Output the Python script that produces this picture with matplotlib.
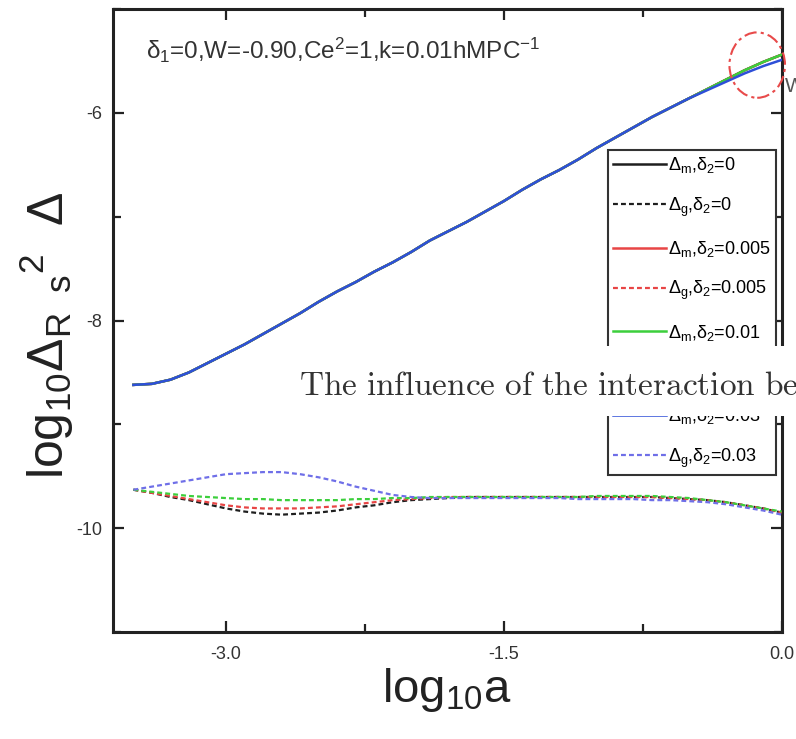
# -*- coding: utf-8 -*-
"""
Growth of log10 Delta versus log10 a for several delta_2 values
(solid: Delta_m, dashed: Delta_g), with the overlay strip of the screenshot.
"""
import matplotlib
matplotlib.use('Agg')
import matplotlib.pyplot as plt
from matplotlib.patches import Ellipse, Rectangle
from matplotlib.ticker import FixedLocator

plt.rcParams['font.family'] = ['Liberation Sans', 'DejaVu Sans']
plt.rcParams['mathtext.fontset'] = 'custom'
plt.rcParams['mathtext.rm'] = 'Liberation Sans'
plt.rcParams['mathtext.it'] = 'Liberation Sans'
plt.rcParams['mathtext.bf'] = 'Liberation Sans:bold'
plt.rcParams['axes.unicode_minus'] = False

# data
log_a = [-3.5, -3.4, -3.3, -3.2, -3.1, -3.0, -2.9, -2.8, -2.7, -2.6, -2.5, -2.4,
         -2.3, -2.2, -2.1, -2.0, -1.9, -1.8, -1.7, -1.6, -1.5, -1.4, -1.3, -1.2,
         -1.1, -1.0, -0.9, -0.8, -0.7, -0.6, -0.5, -0.4, -0.3, -0.2, -0.1, 0.0]

dm_0 = [-8.62, -8.61, -8.57, -8.50, -8.41, -8.32, -8.23, -8.13, -8.03, -7.93, -7.82, -7.72,
        -7.63, -7.53, -7.44, -7.34, -7.23, -7.14, -7.05, -6.95, -6.85, -6.74, -6.64, -6.55,
        -6.45, -6.34, -6.24, -6.14, -6.04, -5.95, -5.86, -5.77, -5.68, -5.59, -5.51, -5.44]
dm_005 = [-8.62, -8.61, -8.57, -8.50, -8.41, -8.32, -8.23, -8.13, -8.03, -7.93, -7.82, -7.72,
          -7.63, -7.53, -7.44, -7.34, -7.23, -7.14, -7.05, -6.95, -6.85, -6.74, -6.64, -6.55,
          -6.45, -6.34, -6.24, -6.14, -6.04, -5.95, -5.86, -5.77, -5.68, -5.59, -5.51, -5.44]
dm_01 = [-8.62, -8.61, -8.57, -8.50, -8.41, -8.32, -8.23, -8.13, -8.03, -7.93, -7.82, -7.72,
         -7.63, -7.53, -7.44, -7.34, -7.23, -7.14, -7.05, -6.95, -6.85, -6.74, -6.64, -6.55,
         -6.45, -6.34, -6.24, -6.14, -6.04, -5.95, -5.86, -5.77, -5.68, -5.59, -5.51, -5.44]
dm_03 = [-8.62, -8.61, -8.57, -8.50, -8.41, -8.32, -8.23, -8.13, -8.03, -7.93, -7.82, -7.72,
         -7.63, -7.53, -7.44, -7.34, -7.23, -7.14, -7.05, -6.95, -6.85, -6.74, -6.64, -6.55,
         -6.45, -6.34, -6.24, -6.14, -6.04, -5.95, -5.86, -5.78, -5.70, -5.62, -5.55, -5.49]

dg_0 = [-9.63, -9.66, -9.70, -9.73, -9.77, -9.81, -9.84, -9.86, -9.87, -9.86, -9.85, -9.83,
        -9.80, -9.78, -9.75, -9.73, -9.72, -9.71, -9.70, -9.70, -9.70, -9.70, -9.70, -9.70,
        -9.70, -9.70, -9.70, -9.70, -9.70, -9.71, -9.72, -9.73, -9.75, -9.78, -9.81, -9.85]
dg_005 = [-9.63, -9.66, -9.69, -9.72, -9.75, -9.78, -9.80, -9.81, -9.81, -9.81, -9.80, -9.79,
          -9.77, -9.75, -9.73, -9.72, -9.71, -9.70, -9.70, -9.70, -9.70, -9.70, -9.70, -9.70,
          -9.70, -9.70, -9.70, -9.70, -9.70, -9.71, -9.72, -9.73, -9.75, -9.78, -9.81, -9.85]
dg_01 = [-9.63, -9.65, -9.67, -9.69, -9.70, -9.71, -9.72, -9.72, -9.73, -9.73, -9.73, -9.73,
         -9.72, -9.72, -9.71, -9.71, -9.70, -9.70, -9.70, -9.70, -9.70, -9.70, -9.70, -9.70,
         -9.70, -9.69, -9.69, -9.69, -9.69, -9.70, -9.71, -9.73, -9.75, -9.78, -9.81, -9.84]
dg_03 = [-9.63, -9.60, -9.57, -9.54, -9.51, -9.48, -9.47, -9.46, -9.46, -9.48, -9.51, -9.55,
         -9.60, -9.64, -9.68, -9.70, -9.71, -9.71, -9.71, -9.71, -9.71, -9.71, -9.71, -9.71,
         -9.72, -9.72, -9.72, -9.72, -9.73, -9.73, -9.74, -9.75, -9.77, -9.80, -9.83, -9.87]

labels = [r'$\Delta_{m}{,}\delta_{2}$=0', r'$\Delta_{g}{,}\delta_{2}$=0',
          r'$\Delta_{m}{,}\delta_{2}$=0.005', r'$\Delta_{g}{,}\delta_{2}$=0.005',
          r'$\Delta_{m}{,}\delta_{2}$=0.01', r'$\Delta_{g}{,}\delta_{2}$=0.01',
          r'$\Delta_{m}{,}\delta_{2}$=0.03', r'$\Delta_{g}{,}\delta_{2}$=0.03']

x_major = [-3.0, -1.5, 0.0]
x_minor = [-2.25, -0.75]
y_major = [-10, -8, -6]
y_minor = [-11, -9, -7, -5]

colors = ['#1e1e1e', '#1e1e1e', '#e84545', '#e84545',
          '#3ccf3c', '#3ccf3c', '#2e4fd8', '#6f6fe8']
series = [dm_0, dg_0, dm_005, dg_005, dm_01, dg_01, dm_03, dg_03]
dash = (0, (2.2, 1.4))

fig = plt.figure(figsize=(7.96, 7.39), dpi=100)
ax = fig.add_axes([0.142, 0.1448, 0.840, 0.843])

for i, (ys, col, lab) in enumerate(zip(series, colors, labels)):
    if i % 2 == 0:
        ax.plot(log_a, ys, color=col, lw=1.8, ls='-', label=lab, zorder=3 + i)
    else:
        ax.plot(log_a, ys, color=col, lw=1.6, ls=dash, label=lab, zorder=3 + i)

ax.set_xlim(-3.61, 0.0)
ax.set_ylim(-11, -5)

ax.xaxis.set_major_locator(FixedLocator(x_major))
ax.xaxis.set_minor_locator(FixedLocator(x_minor))
ax.yaxis.set_major_locator(FixedLocator(y_major))
ax.yaxis.set_minor_locator(FixedLocator(y_minor))
ax.set_xticklabels(['%.1f' % v for v in x_major])
ax.set_yticklabels(['%d' % v for v in y_major])

ax.tick_params(which='both', direction='in', top=True, right=True, width=1.6,
               colors='#222222', labelcolor='#333333')
ax.tick_params(which='major', length=8, labelsize=13)
ax.tick_params(axis='x', which='major', pad=10)
ax.tick_params(axis='y', which='major', pad=8)
ax.tick_params(which='minor', length=6)
for sp in ax.spines.values():
    sp.set_linewidth(2.2)
    sp.set_color('#222222')

ax.set_xlabel(r'log$_{10}$a', fontsize=34, color='#222222')
ax.xaxis.set_label_coords(0.5, -0.055)
ax.set_ylabel(r'log$_{10}\Delta_{R\ \ s}{}^{2}\ \ \Delta$', fontsize=36,
              color='#222222')
ax.yaxis.set_label_coords(-0.055, 0.477)

ax.text(0.05, 0.92, r'$\delta_1$=0,W=-0.90,Ce$^2$=1,k=0.01hMPC$^{-1}$',
        transform=ax.transAxes, fontsize=17.5, color='#333333', va='baseline')

leg = ax.legend(loc='upper left', bbox_to_anchor=(0.740, 0.774), fontsize=13,
                frameon=True, fancybox=False, borderpad=0.3, handlelength=2.9,
                handletextpad=0.15, labelspacing=1.12, borderaxespad=0.0)
leg.get_frame().set_edgecolor('#333333')
leg.get_frame().set_linewidth(1.5)
leg.get_frame().set_alpha(1.0)
leg.set_zorder(20)

# red dash-dot circle at the top end of the curves
ax.add_patch(Ellipse((-0.132, -5.54), 0.30, 0.63, fill=False, ec='#e84a4a',
                     lw=1.5, ls=(0, (6, 2, 1.5, 2)), clip_on=False, zorder=25))

# overlaid strip of the page caption
fig.patches.append(Rectangle((292 / 796, 1 - 416 / 739), 1.0, 70 / 739,
                             transform=fig.transFigure, fc='white', ec='none',
                             zorder=30))
fig.text(299 / 796, 1 - 395 / 739,
         r'$\mathrm{The\ influence\ of\ the\ interaction\ be}$',
         math_fontfamily='cm', fontsize=24, color='#333333', va='baseline',
         zorder=31)
fig.text(785 / 796, 1 - 92 / 739, 'W', fontsize=15, color='#555555',
         va='baseline', zorder=31)

fig.savefig('out.png', dpi=100)
